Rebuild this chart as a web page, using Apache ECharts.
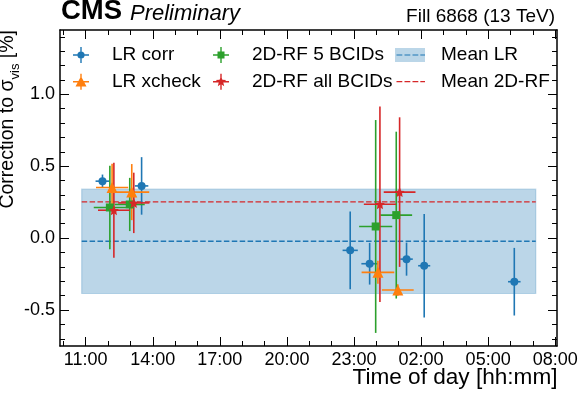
<!DOCTYPE html>
<html><head><meta charset="utf-8">
<script src="https://cdn.jsdelivr.net/npm/echarts@6/dist/echarts.min.js"></script>
<style>html,body{margin:0;padding:0;background:#fff}#c{width:580px;height:395px}</style>
</head><body><div id="c"></div>
<script>
// time = hours since 00:00 of the first day (values > 24 belong to the next day)
const lrCorrT  = [11.75, 13.50, 22.83, 23.70, 25.35, 26.14, 30.17];
const lrCorrV  = [0.396, 0.363, -0.085, -0.178, -0.146, -0.192, -0.303];
const lrCorrTe = [0.31, 0.30, 0.34, 0.37, 0.28, 0.27, 0.28];
const lrCorrVe = [0.046, 0.20, 0.27, 0.145, 0.115, 0.36, 0.235];

const lrXchkT  = [12.18, 13.06, 24.07, 24.96];
const lrXchkV  = [0.352, 0.320, -0.238, -0.361];
const lrXchkTe = [0.72, 0.78, 0.73, 0.71];
const lrXchkVe = [0.165, 0.195, 0.08, 0.04];

const rf5T  = [12.08, 12.97, 23.97, 24.89];
const rf5V  = [0.213, 0.234, 0.081, 0.160];
const rf5Te = [0.72, 0.67, 0.74, 0.71];
const rf5Ve = [0.29, 0.185, 0.74, 0.58];

const rfAllT  = [12.26, 13.15, 24.16, 25.04];
const rfAllV  = [0.194, 0.245, 0.236, 0.320];
const rfAllTe = [0.71, 0.70, 0.72, 0.71];
const rfAllVe = [0.33, 0.21, 0.68, 0.52];

const meanSpan = [10.82, 31.13];
const meanLR = -0.022;
const bandLR = [-0.385, 0.340];
const meanRF = 0.252;

const xRange = [9.85, 32.08];
const yRange = [-0.75, 1.447];
const xTicks = [11, 14, 17, 20, 23, 26, 29, 32];
const xTickLabels = ['11:00', '14:00', '17:00', '20:00', '23:00', '02:00', '05:00', '08:00'];
const yTicks = [-0.5, 0, 0.5, 1.0];
const yTickLabels = ['-0.5', '0.0', '0.5', '1.0'];

const xMinor = [];
for (let h = 10; h <= 32; h++) if (xTicks.indexOf(h) < 0) xMinor.push(h);
const yMinor = [];
for (let k = -7; k <= 14; k++) if (k % 5 !== 0) yMinor.push(k / 10);

const FONT = '"Liberation Sans", Arial, Helvetica, sans-serif';
const C = {blue: '#1f77b4', orange: '#ff7f0e', green: '#2ca02c', red: '#d62728'};

const BOX = 'M0,0M41,16';
const CROSS = 'M7,7.3h16v1.4h-16zM14.3,0h1.4v16h-1.4z';
const icons = {
  lr: 'path://' + BOX + CROSS + 'M18.6,8a3.6,3.6 0 1 1 -7.2,0a3.6,3.6 0 1 1 7.2,0z',
  xc: 'path://' + BOX + CROSS + 'M15,2.5L20.5,12.8L9.5,12.8z',
  rf5: 'path://' + BOX + CROSS + 'M11.5,4.5h7v7h-7z',
  rfa: 'path://' + BOX + CROSS + 'M15,2.5L16.41,6.06L20.23,6.3L17.28,8.74L18.23,12.45L15,10.4L11.77,12.45L12.72,8.74L9.77,6.3L13.59,6.06z',
  patch: 'path://' + BOX + 'M0,1h30v14h-30z',
  dash: 'path://' + BOX + 'M1.5,7.4h5.8v1.2h-5.8zM9.5,7.4h5.8v1.2h-5.8zM17.5,7.4h5.8v1.2h-5.8zM25.3,7.4h4.7v1.2h-4.7z'
};
const starSym = 'path://M10,4.5L11.6,8.2L15.23,8.3L12.5,10.8L13.23,14.45L10,12.6L6.77,14.45L7.5,10.8L4.77,8.3L8.4,8.2z';

function errSeries(name, color, T, V, Te, Ve) {
  return {
    type: 'custom', name: name, z: 3, itemStyle: {color: color},
    data: T.map((t, i) => [t, V[i], Te[i], Ve[i]]),
    encode: {x: 0, y: 1},
    renderItem: function (params, api) {
      const x = api.value(0), y = api.value(1), ex = api.value(2), ey = api.value(3);
      const a = api.coord([x - ex, y]), b = api.coord([x + ex, y]);
      const c = api.coord([x, y - ey]), d = api.coord([x, y + ey]);
      const st = {stroke: color, lineWidth: 1.6};
      return {type: 'group', children: [
        {type: 'line', shape: {x1: a[0], y1: a[1], x2: b[0], y2: b[1]}, style: st},
        {type: 'line', shape: {x1: c[0], y1: c[1], x2: d[0], y2: d[1]}, style: st}
      ]};
    }
  };
}
function markSeries(name, color, T, V, symbol, size) {
  return {
    type: 'scatter', name: name, z: 4, symbol: symbol, symbolSize: size,
    itemStyle: {color: color, opacity: 1},
    data: T.map((t, i) => [t, V[i]])
  };
}
function lookup(vals, labels) {
  return function (v) {
    for (let i = 0; i < vals.length; i++) if (Math.abs(vals[i] - v) < 1e-6) return labels[i];
    return '';
  };
}
function xAx(grid, pos, ticks, len, line, labels) {
  return {
    type: 'value', gridIndex: grid, position: pos, min: xRange[0], max: xRange[1],
    axisLine: {show: line, onZero: false, lineStyle: {color: '#000', width: 1.5}},
    axisTick: {show: true, inside: true, length: len, customValues: ticks, lineStyle: {color: '#000', width: 1}},
    axisLabel: labels ? {show: true, customValues: xTicks, formatter: lookup(xTicks, xTickLabels),
      margin: 5, fontSize: 18, color: '#000', fontFamily: FONT} : {show: false},
    splitLine: {show: false}
  };
}
function yAx(grid, pos, ticks, len, line, labels) {
  return {
    type: 'value', gridIndex: grid, position: pos, min: yRange[0], max: yRange[1],
    axisLine: {show: line, onZero: false, lineStyle: {color: '#000', width: 1.5}},
    axisTick: {show: true, inside: true, length: len, customValues: ticks, lineStyle: {color: '#000', width: 1}},
    axisLabel: labels ? {show: true, customValues: yTicks, formatter: lookup(yTicks, yTickLabels),
      margin: 5, fontSize: 18, color: '#000', fontFamily: FONT} : {show: false},
    splitLine: {show: false}
  };
}
function legend(left, items, z) {
  return {
    left: left, top: 45.5, orient: 'vertical', padding: 0, itemGap: 7.7,
    itemWidth: 41, itemHeight: 16, selectedMode: false, z: z || 4,
    itemStyle: {borderWidth: 0},
    textStyle: {fontSize: 19, color: '#000', fontFamily: FONT},
    data: items
  };
}

const gridBox = {left: 60, right: 23, top: 30, bottom: 49, outerBoundsMode: 'none', containLabel: false};

const option = {
  animation: false,
  backgroundColor: '#fff',
  textStyle: {fontFamily: FONT},
  title: [
    {text: 'CMS', left: 61, top: -2.5, padding: 0,
     textStyle: {fontSize: 27.5, fontWeight: 'bold', color: '#000', fontFamily: FONT}},
    {text: 'Preliminary', left: 130, top: 2.5, padding: 0,
     textStyle: {fontSize: 22, fontStyle: 'italic', fontWeight: 'normal', color: '#000', fontFamily: FONT}},
    {text: 'Fill 6868 (13 TeV)', right: 25, top: 7, padding: 0,
     textStyle: {fontSize: 19, fontWeight: 'normal', color: '#000', fontFamily: FONT}}
  ],
  grid: [Object.assign({}, gridBox), Object.assign({}, gridBox)],
  xAxis: [
    xAx(0, 'bottom', xTicks, 9, true, true),
    xAx(0, 'top', xTicks, 9, true, false),
    xAx(1, 'bottom', xMinor, 5, false, false),
    xAx(1, 'top', xMinor, 5, false, false)
  ],
  yAxis: [
    yAx(0, 'left', yTicks, 9, true, true),
    yAx(0, 'right', yTicks, 9, true, false),
    yAx(1, 'left', yMinor, 5, false, false),
    yAx(1, 'right', yMinor, 5, false, false)
  ],
  legend: [
    legend(66, [{name: 'LR corr', icon: icons.lr}, {name: 'LR xcheck', icon: icons.xc}]),
    legend(206, [{name: '2D-RF 5 BCIDs', icon: icons.rf5}, {name: '2D-RF all BCIDs', icon: icons.rfa}]),
    legend(395, [{name: 'Mean LR', icon: icons.patch}, {name: 'Mean 2D-RF', icon: icons.dash}]),
    legend(395, [{name: ' ', icon: icons.dash}], 6)
  ],
  graphic: [
    {type: 'text', x: 557.5, y: 378, z: 10,
     style: {text: 'Time of day [hh:mm]', fontSize: 22.6, fontFamily: FONT, fill: '#000', align: 'right', verticalAlign: 'middle'}},
    {type: 'text', x: 22, y: 30, rotation: Math.PI / 2, z: 10,
     style: {text: '{a|Correction to σ}{b|vis}{a| [%]}', align: 'right', verticalAlign: 'bottom',
       rich: {a: {fontSize: 19.5, lineHeight: 28, fontFamily: FONT, fill: '#000', verticalAlign: 'middle'},
              b: {fontSize: 13, lineHeight: 13, fontFamily: FONT, fill: '#000', verticalAlign: 'bottom'}}}}
  ],
  series: [
    {
      type: 'custom', name: 'Mean LR', z: 1, itemStyle: {color: 'rgba(31,119,180,0.3)'},
      data: [[meanSpan[0], bandLR[0], meanSpan[1], bandLR[1]]],
      encode: {x: [0, 2], y: [1, 3]},
      renderItem: function (params, api) {
        const p0 = api.coord([api.value(0), api.value(3)]);
        const p1 = api.coord([api.value(2), api.value(1)]);
        return {type: 'rect', shape: {x: p0[0], y: p0[1], width: p1[0] - p0[0], height: p1[1] - p0[1]},
          style: {fill: 'rgba(31,119,180,0.3)', stroke: 'rgba(31,119,180,0.25)', lineWidth: 1.2}};
      }
    },
    {
      type: 'line', name: ' ', z: 2, symbol: 'none', itemStyle: {color: C.blue},
      lineStyle: {color: C.blue, width: 1.5, type: [5.5, 2.4]},
      data: [[meanSpan[0], meanLR], [meanSpan[1], meanLR]]
    },
    {
      type: 'line', name: 'Mean 2D-RF', z: 2, symbol: 'none', itemStyle: {color: C.red},
      lineStyle: {color: C.red, width: 1.2, type: [5.5, 2.4]},
      data: [[meanSpan[0], meanRF], [meanSpan[1], meanRF]]
    },
    errSeries('LR corr', C.blue, lrCorrT, lrCorrV, lrCorrTe, lrCorrVe),
    markSeries('LR corr', C.blue, lrCorrT, lrCorrV, 'circle', 8),
    errSeries('LR xcheck', C.orange, lrXchkT, lrXchkV, lrXchkTe, lrXchkVe),
    markSeries('LR xcheck', C.orange, lrXchkT, lrXchkV, 'triangle', 11),
    errSeries('2D-RF 5 BCIDs', C.green, rf5T, rf5V, rf5Te, rf5Ve),
    markSeries('2D-RF 5 BCIDs', C.green, rf5T, rf5V, 'rect', 8),
    errSeries('2D-RF all BCIDs', C.red, rfAllT, rfAllV, rfAllTe, rfAllVe),
    markSeries('2D-RF all BCIDs', C.red, rfAllT, rfAllV, starSym, 10)
  ]
};
const chart = echarts.init(document.getElementById('c'), null, {renderer: 'canvas'});
chart.setOption(option);
</script></body></html>
